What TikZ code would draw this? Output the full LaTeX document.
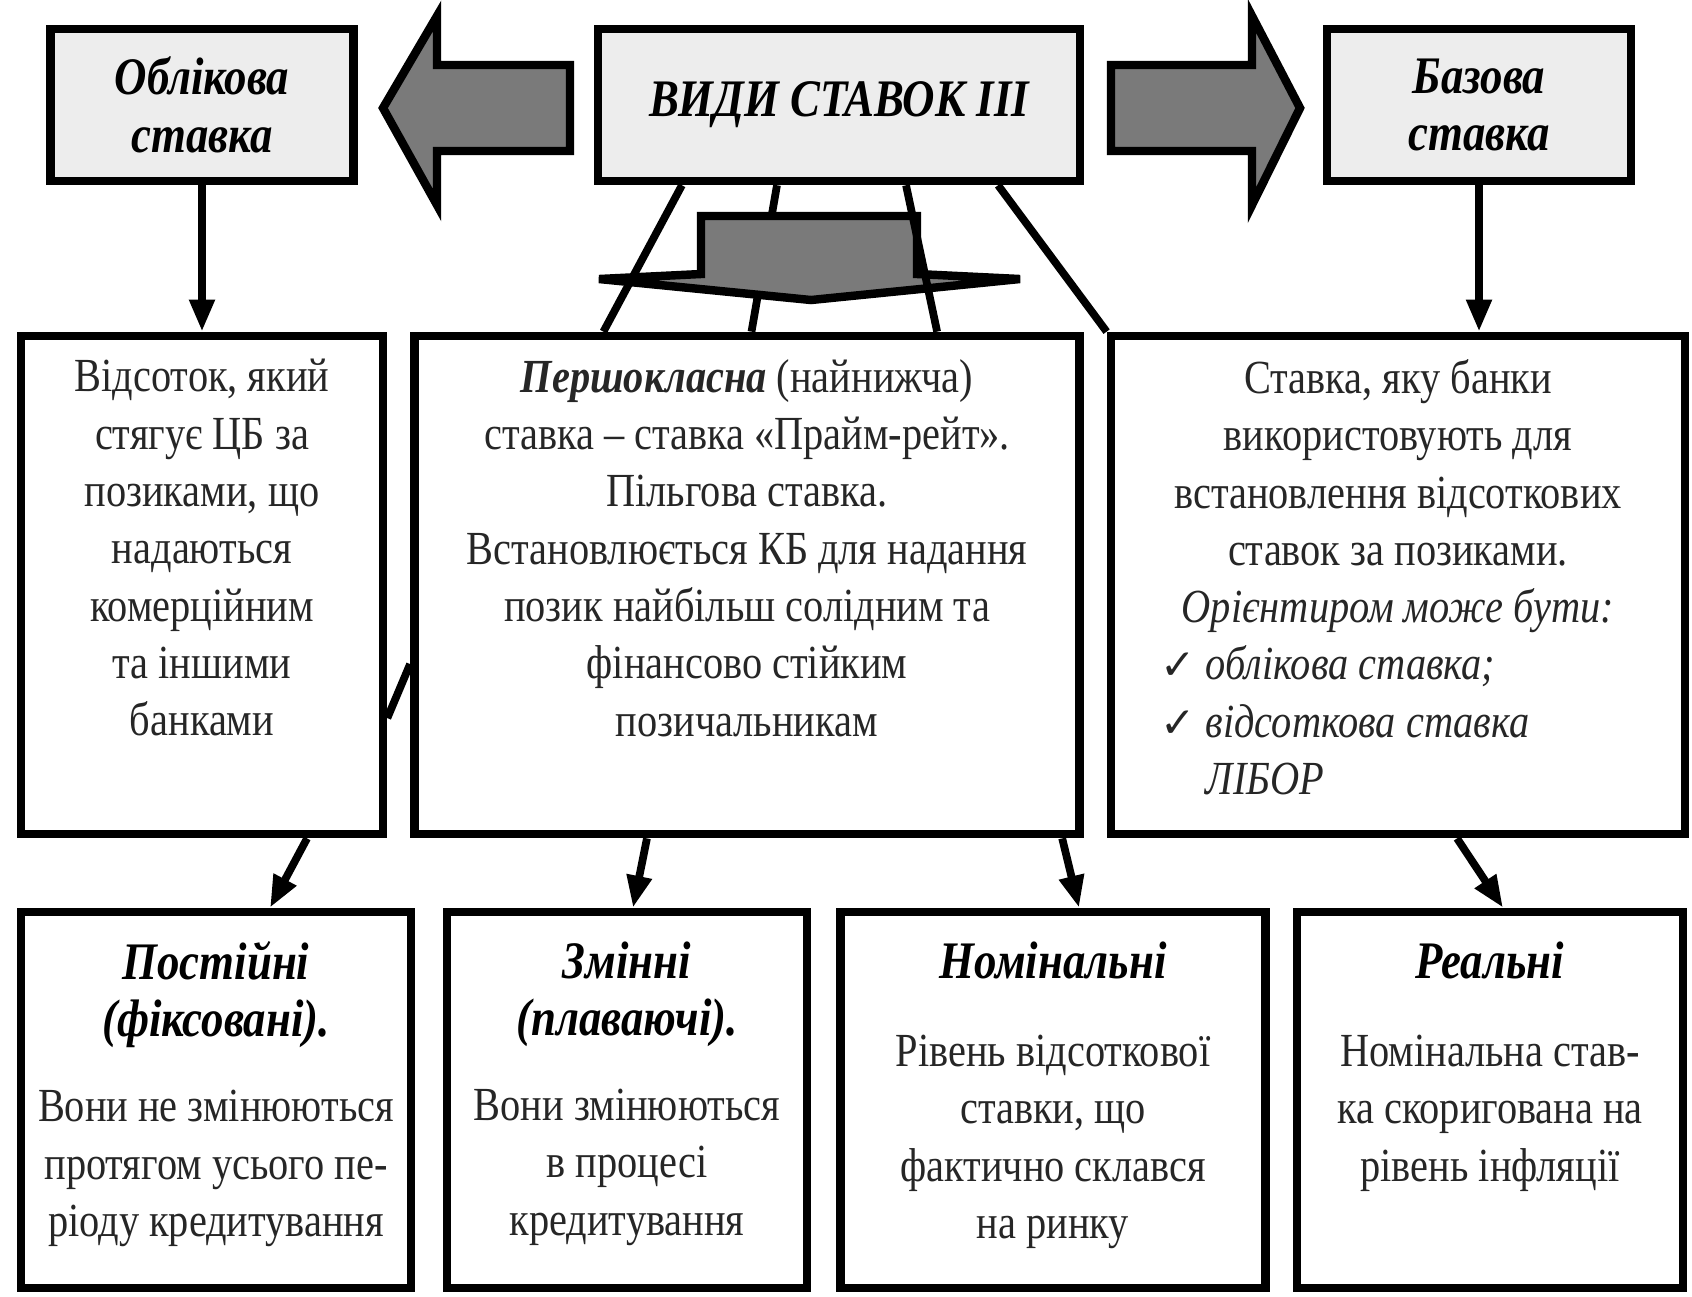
\documentclass[tikz,border=0pt]{standalone}
\usepackage{fontspec}
\setmainfont{LiberationSerif}[Extension=.ttf, UprightFont=*-Regular, BoldFont=*-Bold, ItalicFont=*-Italic, BoldItalicFont=*-BoldItalic, FakeStretch=0.85]
\newfontfamily\checkfont{DejaVu Sans}
\usepackage{xcolor}
\usepackage{tikz}
\usetikzlibrary{arrows.meta,positioning}
\newcommand{\chk}{\makebox[0.45cm][l]{\checkfont\fontsize{12}{14}\selectfont ✓}}

\begin{document}
\begin{tikzpicture}[x=0.01cm, y=-0.01cm,
  every node/.style={inner sep=0pt},
  box/.style={draw, line width=2.4pt},
  topbox/.style={box, fill=black!7, minimum height=1.52cm},
  midbox/.style={box, minimum height=4.98cm},
  lowbox/.style={box, minimum height=3.76cm},
  ttl/.style={font=\fontsize{15}{16.3}\selectfont\bfseries\itshape, align=center},
  txt/.style={font=\fontsize{13.5}{16.3}\selectfont, align=center, text=black!85},
  conn/.style={line width=2.2pt},
  arr/.style={conn, -{Triangle[length=0.32cm,width=0.24cm]}},
  blockarr/.style={draw, line width=2.4pt, fill=black!52, line join=miter}]
\useasboundingbox[fill=white] (0,0) rectangle (1692,1296);

% top row
\node[topbox, ttl, minimum width=3.03cm] (obl) at (202,105) {Облікова\\ставка};
\node[topbox, minimum width=4.82cm, font=\fontsize{15}{18}\selectfont\bfseries\itshape] (kinds) at (839,105) {ВИДИ СТАВОК ІІІ};
\node[topbox, ttl, minimum width=3.04cm] (baz) at (1479,105) {Базова\\ставка};
\draw[blockarr] (570,65) -- (437,65) -- (437,16) -- (383,108) -- (437,205) -- (437,151) -- (570,151) -- cycle;
\draw[blockarr] (1111,65) -- (1252,65) -- (1252,16) -- (1300,108) -- (1252,205) -- (1252,151) -- (1111,151) -- cycle;

% middle row
\node[midbox, minimum width=3.62cm] (cb) at (202,585) {};
\node[midbox, minimum width=6.65cm] (prime) at (747,585) {};
\node[midbox, minimum width=5.74cm] (base) at (1398,585) {};
\node[txt, below=0.27cm of cb.north] (cbtxt) {Відсоток, який\\стягує ЦБ за\\позиками, що\\надаються\\комерційним\\та іншими\\банками};
\node[txt, below=0.27cm of prime.north] (primetxt) {\textbf{\textit{Першокласна}} (найнижча)\\ставка -- ставка «Прайм-рейт».\\Пільгова ставка.\\Встановлюється КБ для надання\\позик найбільш солідним та\\фінансово стійким\\позичальникам};
\node[txt, below=0.27cm of base.north] (basetxt) {Ставка, яку банки\\використовують для\\встановлення відсоткових\\ставок за позиками.\\\textit{Орієнтиром може бути:}};
\node[txt, align=left, anchor=north west] (baselist) at (1160,645) {\chk\textit{облікова ставка;}\\\chk\textit{відсоткова ставка}\\\hspace*{0.45cm}\textit{ЛІБОР}};

% bottom row
\node[lowbox, minimum width=3.9cm] (fixed) at (216,1100) {};
\node[lowbox, minimum width=3.6cm] (float) at (627,1100) {};
\node[lowbox, minimum width=4.25cm] (nominal) at (1053,1100) {};
\node[lowbox, minimum width=3.86cm] (real) at (1490,1100) {};
\node[ttl, below=0.33cm of fixed.north] (fixedttl) {Постійні\\(фіксовані).};
\node[txt, below=0.41cm of fixedttl] (fixedtxt) {Вони не змінюються\\протягом усього пе-\\ріоду кредитування};
\node[ttl, below=0.33cm of float.north] (floatttl) {Змінні\\(плаваючі).};
\node[txt, below=0.41cm of floatttl] (floattxt) {Вони змінюються\\в процесі\\кредитування};
\node[ttl, below=0.33cm of nominal.north] (nominalttl) {Номінальні};
\node[txt, below=0.55cm of nominalttl] (nominaltxt) {Рівень відсоткової\\ставки, що\\фактично склався\\на ринку};
\node[ttl, below=0.33cm of real.north] (realttl) {Реальні};
\node[txt, below=0.55cm of realttl] (realtxt) {Номінальна став-\\ка скоригована на\\рівень інфляції};

% connectors
\draw[conn] ([xshift=-0.62cm]kinds.south) -- ([xshift=0.045cm]prime.north);
\draw[blockarr] (701,216) -- (917,216) -- (917,274) -- (1020,279) -- (811,300) -- (599,279) -- (701,274) -- cycle;
\draw[conn] ([xshift=-1.57cm]kinds.south) -- ([xshift=-1.435cm]prime.north);
\draw[conn] ([xshift=0.67cm]kinds.south) -- ([xshift=1.9cm]prime.north);
\draw[conn] ([xshift=1.59cm]kinds.south) -- (base.north west);
\draw[conn] ([yshift=-1.33cm]cb.east) -- ([yshift=-0.79cm]prime.west);
\draw[arr] (obl.south) -- (cb.north);
\draw[arr] (baz.south) -- (baz.south |- base.north);
\draw[arr] ([xshift=1.05cm]cb.south) -- ([xshift=0.54cm]fixed.north);
\draw[arr] ([xshift=-1.0cm]prime.south) -- ([xshift=0.06cm]float.north);
\draw[arr] ([xshift=3.15cm]prime.south) -- ([xshift=0.26cm]nominal.north);
\draw[arr] ([xshift=0.59cm]base.south) -- ([xshift=0.13cm]real.north);
\end{tikzpicture}
\end{document}
